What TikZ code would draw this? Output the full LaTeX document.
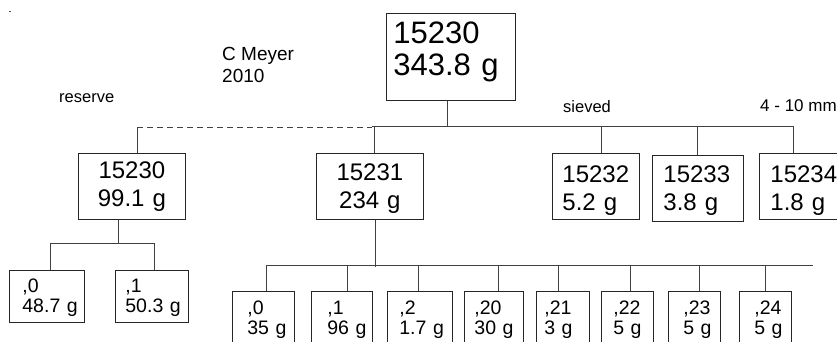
\documentclass[tikz,border=0pt]{standalone}
\usepackage{fontspec}
\setmainfont{Liberation Sans}
\begin{document}
\begin{tikzpicture}[x=1pt,y=-1pt,
  box/.style={draw=black!85, line width=0.8pt, anchor=north west, inner ysep=0pt, align=left},
  bigtext/.style={font=\fontsize{31}{32}\selectfont},
  midtext/.style={font=\fontsize{24}{28}\selectfont},
  smalltext/.style={font=\fontsize{19.5}{20}\selectfont},
  conn/.style={draw=black!75, line width=0.8pt},
  lbl/.style={anchor=base west, inner sep=0pt, align=left, font=\fontsize{16.5}{19}\selectfont},
]
\useasboundingbox (0,0) rectangle (837,341);
\fill[black!70] (8.5,10.5) rectangle (10.5,12);

% top box
\node[box, bigtext, inner xsep=7pt, text width=115pt, text height=30pt, text depth=57pt] (top) at (386,13) {15230\\343.8~g};

% second level
\node[box, midtext, align=center, inner xsep=0pt, text width=107pt, text height=25pt, text depth=41pt] (res) at (78,153) {15230\\99.1~g};
\node[box, midtext, align=center, inner xsep=0pt, text width=107pt, text height=27pt, text depth=39pt] (mid) at (316,153) {15231\\234~g};
\node[box, midtext, inner xsep=10pt, text width=67pt, text height=29pt, text depth=37pt] (s2) at (552,153) {15232\\5.2~g};
\node[box, midtext, inner xsep=11pt, text width=69pt, text height=27pt, text depth=39pt] (s3) at (652,155) {15233\\3.8~g};
\node[box, midtext, inner xsep=11pt, text width=66pt, text height=29pt, text depth=37pt] (s4) at (759,153) {15234\\1.8~g};

% reserve children
\node[box, smalltext, inner xsep=13pt, text width=49pt, text height=22pt, text depth=30pt] (a0) at (9,270) {,0\\48.7~g};
\node[box, smalltext, inner xsep=10pt, text width=53pt, text height=22pt, text depth=30pt] (a1) at (115,270) {,1\\50.3~g};

% 15231 children
\tikzset{lowbox/.style={box, font=\fontsize{19.5}{20}\selectfont, text height=23pt, text depth=70pt}}
\node[lowbox, inner xsep=15pt, text width=32pt] (b0) at (232,291) {,0\\35~g};
\node[lowbox, inner xsep=16pt, text width=29pt] (b1) at (311,291) {,1\\96~g};
\node[lowbox, inner xsep=12pt, text width=41pt] (b2) at (387,291) {,2\\1.7~g};
\node[lowbox, inner xsep=10pt, text width=39pt] (b3) at (464,291) {,20\\30~g};
\node[lowbox, inner xsep=8pt, text width=37pt] (b4) at (536,291) {,21\\3~g};
\node[lowbox, inner xsep=12pt, text width=28pt] (b5) at (601,291) {,22\\5~g};
\node[lowbox, inner xsep=15pt, text width=22pt] (b6) at (668,291) {,23\\5~g};
\node[lowbox, inner xsep=15pt, text width=22pt] (b7) at (739,291) {,24\\5~g};

% labels
\node[lbl, font=\fontsize{19}{22}\selectfont] (author) at (222,60) {C Meyer};
\node[lbl, font=\fontsize{19}{22}\selectfont] (year) at (222,82) {2010};
\node[lbl] (reserve) at (59,102) {reserve};
\node[lbl] (sieved) at (563,112) {sieved};
\node[lbl, font=\fontsize{17}{19}\selectfont] (range) at (760,111) {4 - 10 mm};

% connectors level 1
\coordinate (topj) at (447,126);
\coordinate (barL) at (372,126);
\coordinate (barR) at (793,126);
\coordinate (dashL) at (137,127);
\coordinate (dashR) at (372,127);
\draw[conn] (topj |- top.south) -- (topj);
\draw[conn] (barL) -- (barR);
\draw[conn, dash pattern=on 6pt off 4pt] (dashL) -- (dashR);
\draw[conn] (dashL) -- (dashL |- res.north);
\coordinate (jm) at (374,126);
\coordinate (j2) at (601,126);
\coordinate (j3) at (697,126);
\coordinate (j4) at (793,126);
\draw[conn] (jm) -- (jm |- mid.north);
\draw[conn] (j2) -- (j2 |- s2.north);
\draw[conn] (j3) -- (j3 |- s3.north);
\draw[conn] (j4) -- (j4 |- s4.north);

% reserve children connectors
\coordinate (jr) at (118,243);
\coordinate (jaL) at (50,243);
\coordinate (jaR) at (154,243);
\draw[conn] (jr |- res.south) -- (jr);
\draw[conn] (jaL) -- (jaR);
\draw[conn] (jaL) -- (jaL |- a0.north);
\draw[conn] (jaR) -- (jaR |- a1.north);

% 15231 children connectors
\coordinate (jmb) at (375,267);
\coordinate (kL) at (266,265);
\coordinate (kR) at (813,265);
\draw[conn] (jmb |- mid.south) -- (jmb);
\draw[conn] (kL) -- (kR);
\foreach \x/\n in {266/b0,347/b1,418/b2,498/b3,558/b4,630/b5,699/b6,765/b7}{
  \coordinate (t\n) at (\x,265);
  \draw[conn] (t\n) -- (t\n |- \n.north);
}
\end{tikzpicture}
\end{document}
